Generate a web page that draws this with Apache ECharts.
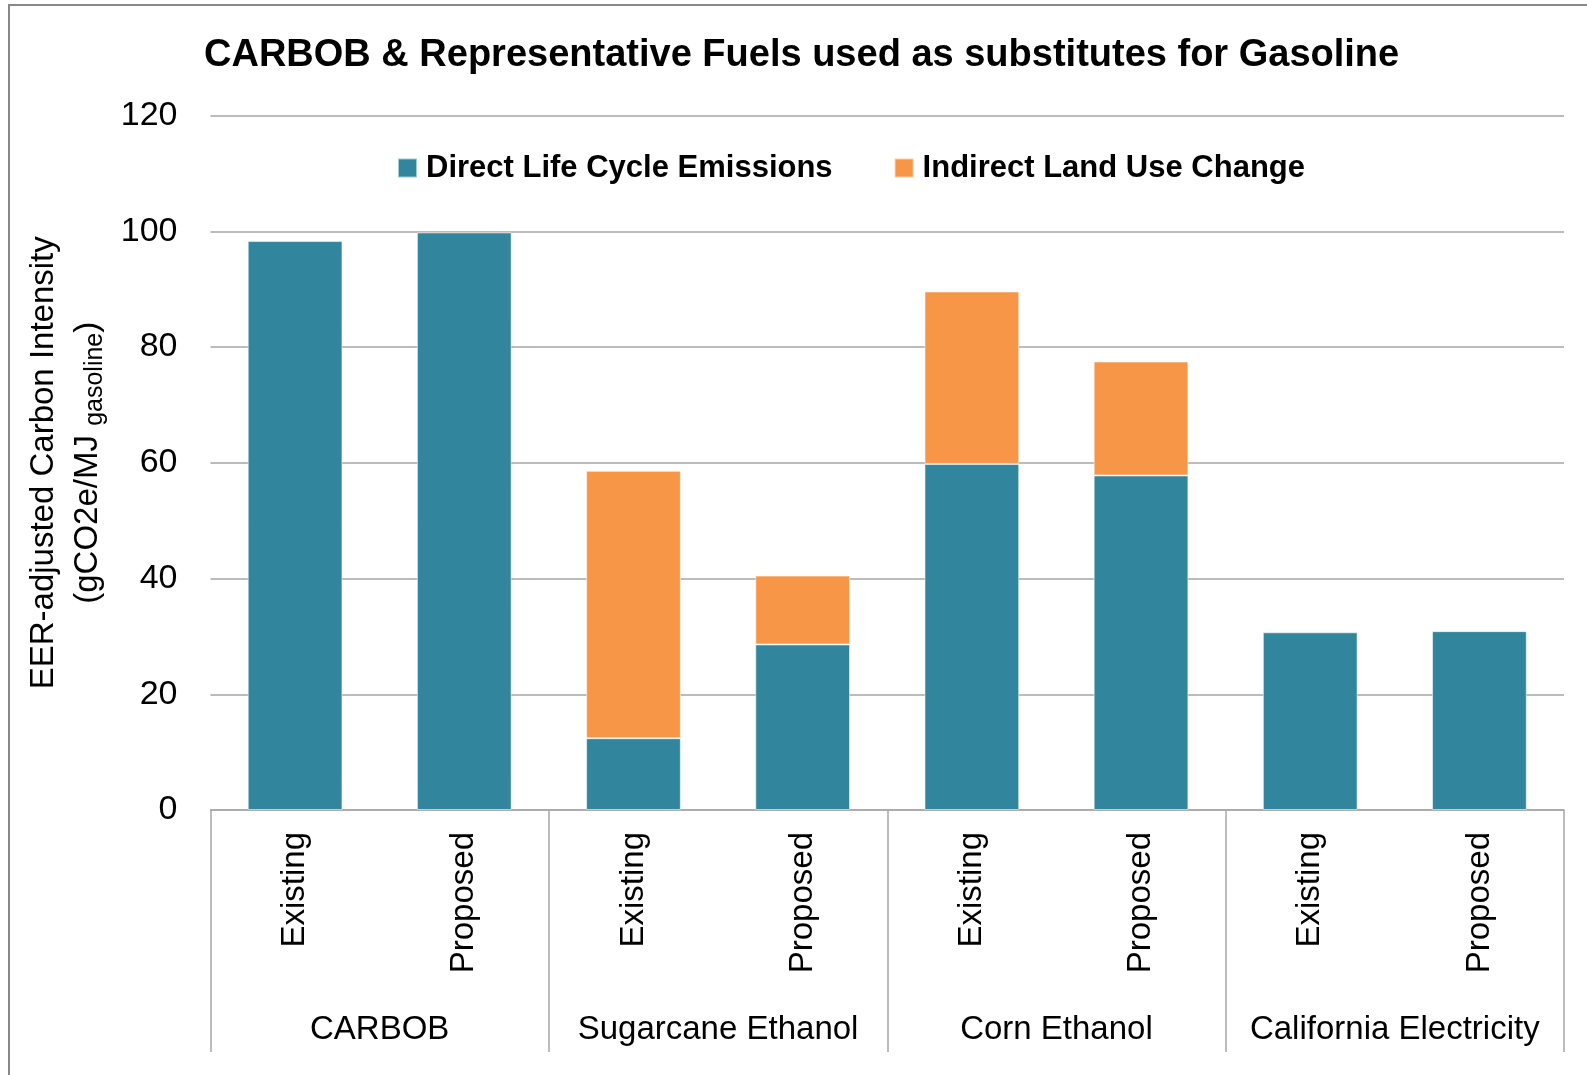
<!DOCTYPE html>
<html><head><meta charset="utf-8">
<script src="https://cdn.jsdelivr.net/npm/echarts@6/dist/echarts.min.js"></script>
<style>html,body{margin:0;padding:0;background:#fff}#c{width:1587px;height:1075px}</style>
</head><body><div id="c"></div>
<script>
const fuels = ['CARBOB', 'Sugarcane Ethanol', 'Corn Ethanol', 'California Electricity'];
const scenarios = ['Existing', 'Proposed', 'Existing', 'Proposed', 'Existing', 'Proposed', 'Existing', 'Proposed'];
const directEmissions = [98.3, 99.8, 12.4, 28.6, 59.8, 57.8, 30.7, 30.9];
const indirectLandUse = [null, null, 46.2, 11.9, 29.8, 19.7, null, null];
const yTicks = { min: 0, max: 120, interval: 20 };

const F = '"Liberation Sans", Arial, sans-serif';
const TEAL = '#31859C', ORANGE = '#F79646', GRID = '#a6a6a6';

const chart = echarts.init(document.getElementById('c'), null, { renderer: 'canvas' });
chart.setOption({
  animation: false,
  backgroundColor: '#fff',
  graphic: [{
    type: 'rect', shape: { x: 9, y: 5, width: 1600, height: 1100 },
    style: { fill: 'none', stroke: '#888', lineWidth: 2 }, silent: true, z: -1
  }],
  title: {
    text: 'CARBOB & Representative Fuels used as substitutes for Gasoline',
    left: 204, top: 33, padding: 0,
    textStyle: { fontFamily: F, fontWeight: 'bold', fontSize: 38, color: '#000', lineHeight: 46 }
  },
  legend: {
    left: 392, top: 145, itemWidth: 19, itemHeight: 19, itemGap: 61, icon: 'rect',
    textStyle: { fontFamily: F, fontWeight: 'bold', fontSize: 31, color: '#000', lineHeight: 36, padding: [0, 0, 0, 4] },
    data: ['Direct Life Cycle Emissions', 'Indirect Land Use Change']
  },
  grid: { left: 210.5, right: 23, top: 115.5, bottom: 265, containLabel: false },
  xAxis: [{
    type: 'category', data: scenarios,
    axisLine: { lineStyle: { color: GRID, width: 1.5 } },
    axisTick: { show: false },
    axisLabel: { rotate: 90, margin: 22, interval: 0, fontSize: 33, fontFamily: F, color: '#000', padding: [10, 0, 0, 0] }
  }, {
    type: 'category', data: fuels, position: 'bottom',
    axisLine: { show: false },
    axisTick: { show: true, length: 242, interval: 0, lineStyle: { color: GRID, width: 1.5 } },
    axisLabel: { margin: 200, interval: 0, fontSize: 33, lineHeight: 40, fontFamily: F, color: '#000' }
  }],
  yAxis: {
    type: 'value', min: yTicks.min, max: yTicks.max, interval: yTicks.interval,
    axisLine: { show: false }, axisTick: { show: false },
    splitLine: { lineStyle: { color: GRID, width: 1.5 } },
    axisLabel: { margin: 33, fontSize: 34, fontFamily: F, color: '#000' },
    name: '{a|EER-adjusted Carbon Intensity}\n{b|(gCO2e/MJ }{c|gasoline}{b|)}',
    nameLocation: 'middle', nameRotate: 90, nameGap: 96,
    nameTextStyle: {
      fontFamily: F, color: '#000',
      rich: {
        a: { fontFamily: F, fontSize: 33, lineHeight: 44, color: '#000' },
        b: { fontFamily: F, fontSize: 33, lineHeight: 44, color: '#000' },
        c: { fontFamily: F, fontSize: 25, lineHeight: 44, color: '#000', verticalAlign: 'bottom', padding: [0, 0, 2, 0] }
      }
    }
  },
  series: [{
    name: 'Direct Life Cycle Emissions', type: 'bar', stack: 'total', xAxisIndex: 0,
    data: directEmissions, barWidth: '56%',
    itemStyle: { color: TEAL, borderColor: 'rgba(255,255,255,0.55)', borderWidth: 1 }
  }, {
    name: 'Indirect Land Use Change', type: 'bar', stack: 'total', xAxisIndex: 0,
    data: indirectLandUse, barWidth: '56%',
    itemStyle: { color: ORANGE, borderColor: 'rgba(255,255,255,0.55)', borderWidth: 1 }
  }]
});
</script>
</body></html>
